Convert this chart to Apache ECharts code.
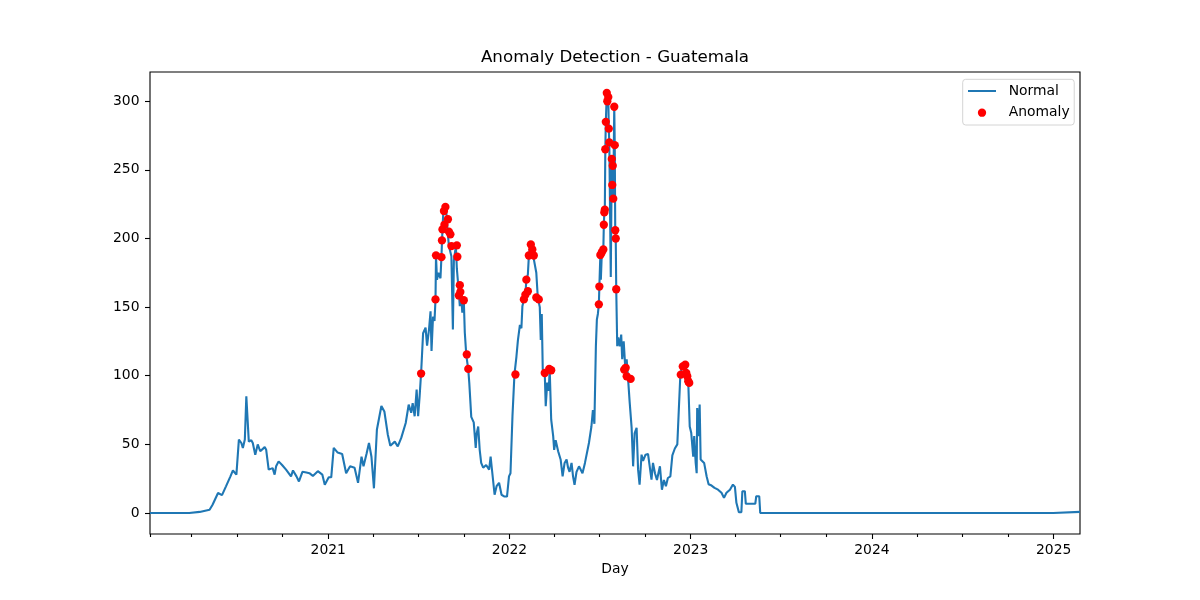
<!DOCTYPE html>
<html>
<head>
<meta charset="utf-8">
<title>Anomaly Detection - Guatemala</title>
<script src="https://cdn.jsdelivr.net/npm/echarts@6/dist/echarts.min.js"></script>
<style>
    html, body { margin: 0; padding: 0; background: #fff; }
    #chart { width: 1200px; height: 600px; }
</style>
</head>
<body>
<div id="chart"></div>
<script>
// daily values (not every day, just the turning points)
let lineDates = [
    '2020-01-08','2020-03-27','2020-04-17','2020-05-07','2020-05-13','2020-05-24','2020-06-01','2020-06-09','2020-06-18','2020-06-23',
    '2020-06-30','2020-07-05','2020-07-10','2020-07-13','2020-07-17','2020-07-20','2020-07-23','2020-07-25','2020-07-30','2020-08-02',
    '2020-08-07','2020-08-12','2020-08-17','2020-08-26','2020-08-29','2020-09-03','2020-09-11','2020-09-15','2020-09-18','2020-09-23',
    '2020-09-30','2020-10-08','2020-10-18','2020-10-22','2020-10-29','2020-11-03','2020-11-10','2020-11-18','2020-11-24','2020-12-01',
    '2020-12-11','2020-12-20','2020-12-25','2021-01-02','2021-01-07','2021-01-12','2021-01-20','2021-01-29','2021-02-06','2021-02-14',
    '2021-02-23','2021-03-02','2021-03-09','2021-03-13','2021-03-19','2021-03-24','2021-03-29','2021-04-03','2021-04-09','2021-04-18',
    '2021-04-24','2021-05-01','2021-05-06','2021-05-15','2021-05-21','2021-05-28','2021-06-06','2021-06-12','2021-06-17','2021-06-20',
    '2021-06-24','2021-06-28','2021-07-01','2021-07-04','2021-07-07','2021-07-11','2021-07-16','2021-07-19','2021-07-23','2021-07-26',
    '2021-07-28','2021-07-31','2021-08-03','2021-08-05','2021-08-06','2021-08-08','2021-08-11','2021-08-15','2021-08-17','2021-08-19',
    '2021-08-21','2021-08-24','2021-08-27','2021-08-29','2021-09-01','2021-09-06','2021-09-09','2021-09-11','2021-09-15','2021-09-17',
    '2021-09-20','2021-09-23','2021-09-25','2021-09-28','2021-10-01','2021-10-03','2021-10-06','2021-10-10','2021-10-12','2021-10-16',
    '2021-10-21','2021-10-25','2021-10-27','2021-10-30','2021-11-02','2021-11-05','2021-11-09','2021-11-15','2021-11-21','2021-11-24',
    '2021-11-27','2021-12-02','2021-12-06','2021-12-11','2021-12-16','2021-12-22','2021-12-27','2021-12-31','2022-01-03','2022-01-07',
    '2022-01-11','2022-01-15','2022-01-18','2022-01-22','2022-01-25','2022-01-27','2022-01-30','2022-02-02','2022-02-04','2022-02-07',
    '2022-02-09','2022-02-12','2022-02-15','2022-02-19','2022-02-24','2022-02-27','2022-03-03','2022-03-05','2022-03-07','2022-03-09',
    '2022-03-13','2022-03-15','2022-03-18','2022-03-21','2022-03-23','2022-03-26','2022-03-30','2022-04-01','2022-04-04','2022-04-09',
    '2022-04-14','2022-04-18','2022-04-22','2022-04-26','2022-04-29','2022-05-02','2022-05-06','2022-05-09','2022-05-12','2022-05-16',
    '2022-05-21','2022-05-28','2022-06-02','2022-06-06','2022-06-10','2022-06-15','2022-06-18','2022-06-21','2022-06-24','2022-06-26',
    '2022-06-28','2022-06-30','2022-07-01','2022-07-03','2022-07-04','2022-07-06','2022-07-09','2022-07-10','2022-07-11','2022-07-12',
    '2022-07-13','2022-07-14','2022-07-16','2022-07-17','2022-07-19','2022-07-20','2022-07-21','2022-07-24','2022-07-26','2022-07-27',
    '2022-07-28','2022-07-29','2022-07-31','2022-08-01','2022-08-02','2022-08-03','2022-08-04','2022-08-06','2022-08-08','2022-08-11',
    '2022-08-14','2022-08-16','2022-08-19','2022-08-22','2022-08-25','2022-08-28','2022-08-31','2022-09-04','2022-09-07','2022-09-10',
    '2022-09-14','2022-09-17','2022-09-20','2022-09-24','2022-09-27','2022-10-02','2022-10-07','2022-10-10','2022-10-14','2022-10-17',
    '2022-10-21','2022-10-25','2022-10-31','2022-11-04','2022-11-08','2022-11-12','2022-11-16','2022-11-21','2022-11-25','2022-11-30',
    '2022-12-05','2022-12-08','2022-12-11','2022-12-15','2022-12-19','2022-12-21','2022-12-25','2022-12-27','2022-12-29','2022-12-30',
    '2023-01-02','2023-01-06','2023-01-08','2023-01-11','2023-01-13','2023-01-14','2023-01-16','2023-01-19','2023-01-21','2023-01-24',
    '2023-01-28','2023-02-02','2023-02-06','2023-02-12','2023-02-18','2023-02-25','2023-03-04','2023-03-09','2023-03-14','2023-03-21',
    '2023-03-27','2023-03-31','2023-04-03','2023-04-08','2023-04-13','2023-04-15','2023-04-20','2023-04-22','2023-05-11','2023-05-13',
    '2023-05-19','2023-05-21','2024-12-31','2025-01-02','2025-02-23'
];
let lineValues = [
    0, 0, 0.8, 2.4, 6, 14.6, 13, 19.4, 26.7, 31,
    28, 53.5, 51, 47.4, 53.5, 85, 86, 52, 53, 51,
    42.5, 50, 45, 48, 46, 31.6, 32.7, 28, 34, 37.6,
    35, 31.6, 26.7, 31, 26.7, 23, 30, 29.5, 29, 27,
    30.5, 28, 20.6, 26, 26, 47.4, 44, 43, 29, 34,
    33, 22, 41, 34, 43, 51, 41, 18, 60.8, 78,
    74, 57, 49, 52, 48.5, 54.7, 65.6, 79, 73, 80,
    70.5, 90, 70.5, 85, 102, 131, 135, 122, 134, 147,
    118, 143, 140, 155.6, 187, 170, 175, 171, 187, 206.6,
    221, 225, 218, 207, 194.5, 187, 133.7, 184, 194.5, 178,
    165, 150.7, 162, 146, 155, 131.5, 115, 104.5, 95, 70,
    66, 47.4, 58, 63, 46, 36.5, 33, 35, 31.6, 41,
    30.6, 13.3, 19.5, 22, 13.3, 12, 12, 26.7, 29, 70.5,
    101, 114, 126, 137, 134.6, 150.7, 155.6, 159, 170, 173.8,
    187, 195.7, 192, 185, 175, 157, 150, 126, 145, 104.5,
    102, 77.8, 95, 89, 104.5, 68, 56, 46, 53, 45,
    39, 26.7, 36.5, 39, 33, 30, 36.5, 26.7, 20.6, 30,
    34, 29, 36.5, 37, 51, 63, 75, 65, 121.5, 141,
    145, 152, 165, 188, 170, 190, 192, 210, 219, 221,
    265, 285, 306, 300, 303, 280, 270, 172, 258, 239,
    253, 229, 296, 268, 206, 200, 163, 121.5, 128, 121.5,
    130, 112, 125, 107, 112, 97, 81, 62, 34, 58,
    62, 31.6, 20.6, 42.5, 38, 42.5, 43, 35, 24.3, 36.5,
    29, 24, 34, 17, 24, 19.5, 25.5, 26.7, 42, 47,
    50, 75, 99.6, 108, 106, 109.3, 99.6, 96, 94.8, 63,
    58.5, 41, 56, 36.5, 29, 76.5, 56, 79, 39, 39,
    36.5, 26.8, 21, 20, 18.3, 17, 14.7, 11, 14.7, 17,
    20.7, 19, 7.4, 0.6, 0.6, 15.9, 15.9, 6.7, 6.7, 12.2,
    12.2, 0, 0, 0.6, 0.8
];

// days flagged as anomaly
let anomalyDates = [
    '2021-07-07','2021-08-05','2021-08-06','2021-08-17','2021-08-18','2021-08-19','2021-08-22','2021-08-23','2021-08-25','2021-08-30',
    '2021-09-01','2021-09-04','2021-09-06','2021-09-17','2021-09-18','2021-09-21','2021-09-23','2021-09-24','2021-10-01','2021-10-07',
    '2021-10-10','2022-01-13','2022-01-30','2022-02-02','2022-02-04','2022-02-07','2022-02-09','2022-02-13','2022-02-16','2022-02-19',
    '2022-02-24','2022-03-01','2022-03-13','2022-03-22','2022-03-26','2022-06-30','2022-07-01','2022-07-03','2022-07-06','2022-07-09',
    '2022-07-10','2022-07-11','2022-07-12','2022-07-13','2022-07-14','2022-07-16','2022-07-17','2022-07-19','2022-07-20','2022-07-21',
    '2022-07-26','2022-07-27','2022-07-28','2022-07-29','2022-07-31','2022-08-01','2022-08-02','2022-08-03','2022-08-04','2022-08-20',
    '2022-08-23','2022-08-25','2022-09-02','2022-12-12','2022-12-16','2022-12-21','2022-12-23','2022-12-25','2022-12-27','2022-12-29'
];
let anomalyValues = [
    101.6, 155.6, 187.7, 186.4, 198.6, 206.6, 220, 210, 223, 214,
    205, 203, 194.5, 195, 186.7, 158.5, 166, 161, 155, 115.5,
    105, 100.9, 155.6, 159, 170, 161.6, 187.6, 195.7, 192, 187.6,
    157, 155.6, 102, 105, 104, 152, 165, 188, 190, 192,
    210, 219, 221, 265, 285, 306, 300, 303, 280, 270,
    258, 239, 253, 229, 296, 268, 206, 200, 163, 104.5,
    105.8, 99.6, 97.7, 100.8, 106.8, 108, 102, 99.6, 96, 94.8
];

let xStart = '2020-01-08';
let xEnd = '2025-02-23';
let yearTicks = ['2021-01-01', '2022-01-01', '2023-01-01', '2024-01-01', '2025-01-01'];
let quarterTicks = [
    '2020-01-08', '2020-04-01', '2020-07-01', '2020-10-01',
    '2021-04-01', '2021-07-01', '2021-10-01',
    '2022-04-01', '2022-07-01', '2022-10-01',
    '2023-04-01', '2023-07-01', '2023-10-01',
    '2024-04-01', '2024-07-01', '2024-10-01'
];
let yTicks = [0, 50, 100, 150, 200, 250, 300];
let yMin = -15.3;
let yMax = 321.3;

// dates as UTC timestamps (plain numbers on a value axis, so the time zone moves nothing)
function toTime(s) {
    let p = s.split('-').map(Number);
    return Date.UTC(p[0], p[1] - 1, p[2]);
}

function zip(dates, values) {
    let out = [];
    for (let i = 0; i < dates.length; i++) {
        out.push([toTime(dates[i]), values[i]]);
    }
    return out;
}

let FONT = 'DejaVu Sans';

let option = {
    animation: false,
    backgroundColor: '#fff',
    title: {
        text: 'Anomaly Detection - Guatemala',
        left: 615,
        top: 49.5,
        padding: 0,
        textAlign: 'center',
        textStyle: { fontFamily: FONT, fontSize: 16.7, fontWeight: 'normal', color: '#000' }
    },
    legend: {
        orient: 'vertical',
        left: 962.7,
        top: 79.3,
        padding: [3.7, 4.6, 4.3, 4.3],
        itemWidth: 28,
        itemHeight: 8.3,
        itemGap: 5.7,
        backgroundColor: '#fff',
        borderColor: '#d4d4d4',
        borderWidth: 1,
        borderRadius: 3,
        textStyle: { fontFamily: FONT, fontSize: 13.9, color: '#000', lineHeight: 16, padding: [0, 0, 0, 7.7] },
        // plain line for Normal, no marker on it
        data: [{ name: 'Normal', itemStyle: { opacity: 0 } }, 'Anomaly']
    },
    grid: {
        left: 150,
        right: 120,
        top: 72,
        bottom: 66,
        show: true,
        borderColor: '#000',
        borderWidth: 1.1,
        backgroundColor: 'transparent'
    },
    xAxis: [{
        type: 'value',
        min: toTime(xStart),
        max: toTime(xEnd),
        position: 'bottom',
        name: 'Day',
        nameLocation: 'middle',
        nameGap: 27,
        nameTextStyle: { fontFamily: FONT, fontSize: 13.9, color: '#000' },
        axisLine: { show: false, onZero: false },
        splitLine: { show: false },
        axisTick: {
            show: true,
            length: 5,
            lineStyle: { color: '#000', width: 1.1 },
            customValues: yearTicks.map(toTime)
        },
        axisLabel: {
            margin: 9.5,
            fontFamily: FONT,
            fontSize: 13.9,
            color: '#000',
            customValues: yearTicks.map(toTime),
            formatter: function (v) {
                return String(new Date(v).getUTCFullYear());
            }
        }
    }, {
        // quarter ticks, short and unlabelled
        type: 'value',
        min: toTime(xStart),
        max: toTime(xEnd),
        position: 'bottom',
        offset: 0,
        axisLine: { show: false, onZero: false },
        splitLine: { show: false },
        axisTick: {
            show: true,
            length: 3,
            lineStyle: { color: '#000', width: 1.1 },
            customValues: quarterTicks.map(toTime)
        },
        axisLabel: { show: false }
    }],
    yAxis: {
        type: 'value',
        min: yMin,
        max: yMax,
        axisLine: { show: false, onZero: false },
        splitLine: { show: false },
        axisTick: {
            show: true,
            length: 5,
            lineStyle: { color: '#000', width: 1.1 },
            customValues: yTicks
        },
        axisLabel: {
            margin: 10.5,
            fontFamily: FONT,
            fontSize: 13.9,
            color: '#000',
            customValues: yTicks
        }
    },
    series: [{
        name: 'Normal',
        type: 'line',
        xAxisIndex: 0,
        data: zip(lineDates, lineValues),
        symbol: 'none',
        showSymbol: false,
        lineStyle: { color: '#1f77b4', width: 2.1 },
        itemStyle: { color: '#1f77b4' },
        z: 2
    }, {
        name: 'Anomaly',
        type: 'scatter',
        xAxisIndex: 0,
        data: zip(anomalyDates, anomalyValues),
        symbol: 'circle',
        symbolSize: 8.3,
        itemStyle: { color: '#ff0000', opacity: 1 },
        z: 3
    }]
};

let chart = echarts.init(document.getElementById('chart'), null, { renderer: 'canvas' });
chart.setOption(option);
</script>
</body>
</html>
